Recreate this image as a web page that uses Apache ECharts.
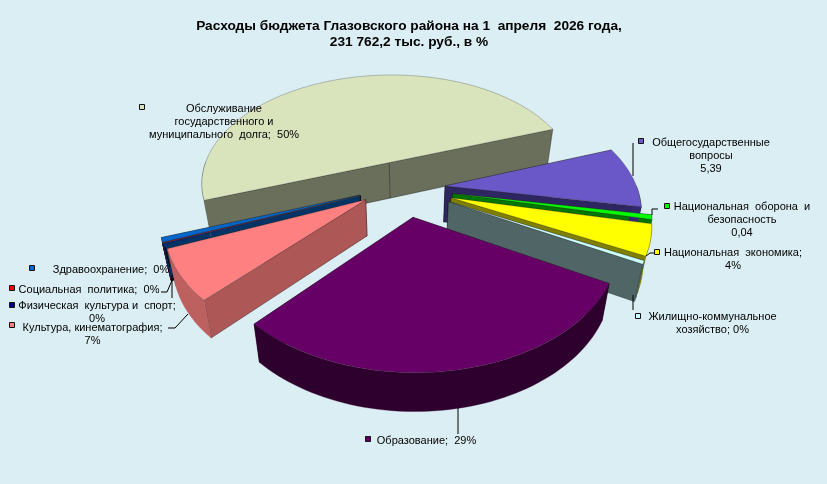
<!DOCTYPE html>
<html><head><meta charset="utf-8">
<style>html,body{margin:0;padding:0;background:#fff}#c{width:827px;height:484px}</style>
<script src="https://cdn.jsdelivr.net/npm/echarts@6/dist/echarts.min.js"></script>
</head><body><div id="c"></div>
<script>
// Slice order is clockwise from the start angle
const categories = ['Общегосударственные вопросы','Национальная оборона и безопасность','Национальная экономика','Жилищно-коммунальное хозяйство','Образование','Культура, кинематография','Физическая культура и спорт','Социальная политика','Здравоохранение','Обслуживание государственного и муниципального долга'];
const shares = [8.4,0.6,4.1,0.45,28.9,6.8,0.1,0.05,0.6,50];
const topColors = ['#6A58C8','#00FF00','#FFFF00','#CCFFFF','#660066','#FF8080','#000080','#FF0000','#0066CC','#D9E3BC'];
const wallColors = ['#2E2660','#007700','#7F7F00','#506666','#2E002E','#AD5757','#000040','#7F0000','#003366','#6A6F5C'];
const rimColors = ['#33296B','#007700','#7F7F00','#506666','#2E002E','#BD6060','#000040','#7F0000','#003366','#6A6F5C'];
const explosions = [0.21,0.25,0.25,0.25,0.25,0.225,0.24,0.24,0.24,0.25];
const explodeTurn = [0,0,0,0,0,8,6,6,6,0];
const drawOrder = [9,0,1,2,6,7,8,3,5,4];
const labelLines = [
 ['Общегосударственные','вопросы','5,39'],
 ['Национальная  оборона  и','безопасность','0,04'],
 ['Национальная  экономика;','4%'],
 ['Жилищно-коммунальное','хозяйство; 0%'],
 ['Образование;  29%'],
 ['Культура, кинематография;','7%'],
 ['Физическая  культура и  спорт;','0%'],
 ['Социальная  политика;  0%'],
 ['Здравоохранение;  0%'],
 ['Обслуживание','государственного и','муниципального  долга;  50%']
];
const titleLines = ['Расходы бюджета Глазовского района на 1  апреля  2026 года,','231 762,2 тыс. руб., в %'];

// Scene: a perspective view of an exploded disc
const CX=405,CY=188,AX=192,BY=113,PERSP=0.19,START=-20;
function project(u,v){const w=1-PERSP*v;return [CX+AX*u/w,CY+BY*v/w];}
function lower(p){return [CX+(p[0]-CX)*0.965,p[1]+36+(p[1]-CY)*0.016];}
const cum=[];shares.reduce((s,v,i)=>{cum[i]=s;return s+v;},0);
const total=shares.reduce((a,b)=>a+b,0);

function sliceShapes(i){
  const a0=(START+cum[i]/total*360)*Math.PI/180,a1=(START+(cum[i]+shares[i])/total*360)*Math.PI/180,am=(a0+a1)/2+explodeTurn[i]*Math.PI/180;
  const e=explosions[i],ex=e*Math.cos(am),ey=e*Math.sin(am);
  const apex=project(ex,ey);
  const arc=[];const n=Math.max(2,Math.ceil((a1-a0)/0.03));
  for(let k=0;k<=n;k++){const a=a0+(a1-a0)*k/n;arc.push(project(ex+Math.cos(a),ey+Math.sin(a)));}
  const poly=(pts,fill,stroke,z)=>({type:'polygon',shape:{points:pts},z2:z,style:{fill,stroke:stroke||fill,lineWidth:stroke?0.6:0.3}});
  const kids=[];
  const wall=(p,q)=>[p,q,lower(q),lower(p)];
  const edge='rgba(0,0,0,0.55)';
  const w0=poly(wall(apex,arc[0]),wallColors[i],edge,1);
  const w1=poly(wall(apex,arc[n]),wallColors[i],edge,1);
  const order=(arc[0][1]<arc[n][1])?[w0,w1]:[w1,w0];
  kids.push(order[0],order[1]);
  const rim=[];
  for(let k=0;k<=n;k++){const a=a0+(a1-a0)*k/n;if(Math.sin(a)>-0.02)rim.push(arc[k]);}
  if(rim.length>1){const lowr=rim.map(lower).reverse();kids.push(poly(rim.concat(lowr),rimColors[i],null,2));}
  kids.push(poly([apex].concat(arc),topColors[i],'rgba(60,60,60,0.5)',3));
  return {type:'group',children:kids};
}

// Label placement on the page
const labelBoxes=[
 {key:[641,141],cx:711,y:142},{key:[667,206],cx:742,y:206},{key:[657,252],cx:733,y:252},
 {key:[638,316],cx:712.5,y:316},{key:[368,439],cx:426.5,y:440},{key:[12,325],cx:92.5,y:327},
 {key:[12,305],cx:97,y:305},{key:[12,288],cx:89,y:289},{key:[32,268],cx:111,y:269},{key:[142,107],cx:224,y:108}];
const leaders=[
 [[633,176],[633,143]],[[652,215],[652,209],[658,209]],[[646,256],[650,253],[654,253]],
 [[633,295],[633,310]],[[458,408],[458,434]],[[188,314],[175,328],[168,328]],
 [[172,275],[172,298]],[[173,278],[167,292],[161,292]],[[165,247],[170,267]],[]];

const graphic=[];
leaders.forEach(l=>{if(l.length)graphic.push({type:'polyline',z:10,shape:{points:l},style:{stroke:'#000',lineWidth:1,fill:null}});});
labelBoxes.forEach((b,i)=>{
  graphic.push({type:'rect',z:11,shape:{x:b.key[0]-2.5,y:b.key[1]-2.5,width:5,height:5},style:{fill:topColors[i],stroke:'#111',lineWidth:1}});
  graphic.push({type:'text',z:11,x:b.cx,y:b.y,style:{text:labelLines[i].join('\n'),font:'11px "Liberation Sans"',lineHeight:13,fill:'#000',align:'center',verticalAlign:'top',y:-6}});
});
const chart=echarts.init(document.getElementById('c'),null,{renderer:'canvas'});
chart.setOption({
  animation:false,
  backgroundColor:'#DBEEF3',
  title:{text:titleLines.join('\n'),left:404,top:13,textAlign:'center',textStyle:{fontFamily:'Liberation Sans',fontSize:13.7,fontWeight:'bold',color:'#000',lineHeight:16}},
  series:[{type:'custom',coordinateSystem:'none',silent:true,
    data:drawOrder.map(i=>({name:categories[i],value:[i,shares[i]]})),
    renderItem:(p,api)=>sliceShapes(api.value(0))}],
  graphic:{elements:graphic}
});
</script></body></html>
